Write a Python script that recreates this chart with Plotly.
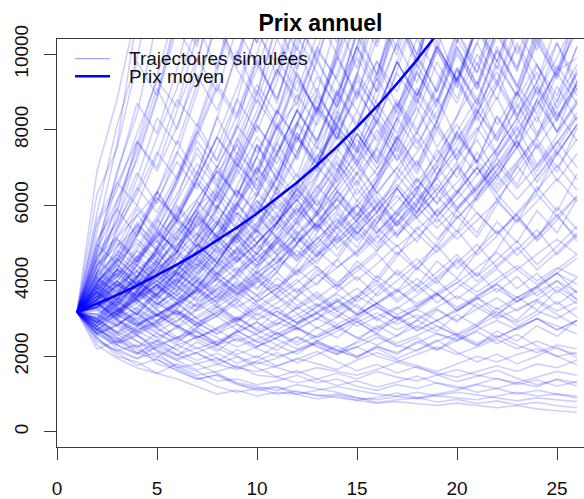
import plotly.graph_objects as go

years = list(range(1, 27))

# Prix moyen (mean price)
prix_moyen = [3170, 3390, 3620, 3870, 4140, 4430, 4730, 5060, 5410, 5780, 6180, 6600, 7060,
              7550, 8070, 8620, 9220, 9850, 10530, 11260, 12030, 12870, 13750, 14700, 15720, 16800]

# Simulated trajectories (estimated by eye, a representative subset of the cloud)
traj_bas_1 = [3170, 2450, 2150, 2300, 1800, 1650, 1400, 1500, 1250, 1150, 1200, 1050, 980, 900, 820, 760, 800, 740, 700, 760, 690, 640, 700, 610, 560, 520]
traj_bas_2 = [3170, 2700, 2200, 1950, 2100, 1700, 1450, 1200, 1050, 1150, 1000, 1080, 950, 1000, 900, 850, 940, 880, 960, 1050, 980, 900, 820, 900, 850, 800]
traj_bas_3 = [3170, 2300, 1950, 1700, 1550, 1800, 1600, 1350, 1400, 1250, 1350, 1500, 1300, 1400, 1200, 1100, 1250, 1150, 1300, 1200, 1050, 1150, 1000, 1100, 1000, 950]
traj_bas_4 = [3170, 2900, 2500, 2100, 1900, 1700, 1800, 1550, 1300, 1200, 1100, 1250, 1150, 1050, 900, 780, 850, 900, 1000, 1100, 1250, 1150, 1300, 1200, 1400, 1300]
traj_bas_5 = [3170, 2600, 2800, 2400, 2000, 1750, 1500, 1600, 1750, 1500, 1450, 1300, 1400, 1550, 1400, 1600, 1450, 1350, 1500, 1650, 1500, 1400, 1300, 1450, 1600, 1500]
traj_bas_6 = [3170, 2500, 2000, 1850, 1550, 1400, 1200, 1000, 1100, 950, 1050, 1000, 1100, 1200, 1100, 1000, 950, 1050, 950, 900, 850, 950, 1050, 950, 1000, 900]
traj_bas_7 = [3170, 2800, 2350, 2550, 2200, 1950, 2100, 1800, 1650, 1850, 1700, 1550, 1700, 1600, 1500, 1650, 1850, 1700, 1550, 1450, 1600, 1750, 1600, 1800, 1700, 1900]
traj_bas_8 = [3170, 3000, 2600, 2250, 2400, 2050, 1800, 1950, 1700, 1600, 1750, 1950, 1800, 1650, 1900, 2100, 1900, 1750, 1600, 1800, 2000, 1850, 2050, 2200, 2000, 2100]

traj_mid_1 = [3170, 3400, 3000, 2700, 2900, 2500, 2650, 2300, 2450, 2200, 2000, 2150, 2350, 2100, 2250, 2500, 2300, 2150, 2400, 2600, 2350, 2550, 2300, 2100, 2300, 2200]
traj_mid_2 = [3170, 2900, 3200, 3500, 3100, 2800, 2500, 2700, 2400, 2600, 2900, 2700, 3000, 2750, 2500, 2300, 2550, 2800, 2600, 2400, 2700, 2950, 2700, 3000, 2800, 2600]
traj_mid_3 = [3170, 3700, 3300, 2900, 2600, 2300, 2500, 2750, 3000, 2700, 2450, 2200, 2400, 2150, 2000, 2250, 2100, 2350, 2600, 2450, 2800, 3100, 2900, 3200, 3000, 3300]
traj_mid_4 = [3170, 2700, 2450, 2700, 2950, 3200, 2900, 3150, 2850, 2600, 2850, 3100, 3400, 3100, 2800, 3050, 3300, 3000, 3300, 3600, 3300, 3000, 3250, 3500, 3200, 3450]
traj_mid_5 = [3170, 3500, 3900, 3500, 3100, 3400, 3000, 2700, 2950, 3300, 3050, 2750, 3000, 3300, 3600, 3300, 3000, 3250, 2950, 3200, 3500, 3800, 3450, 3700, 4000, 3700]
traj_mid_6 = [3170, 2600, 2300, 2050, 2250, 2500, 2200, 2400, 2650, 2900, 2600, 2850, 3150, 2850, 3100, 3400, 3100, 3350, 3650, 3300, 3600, 3900, 3550, 3850, 4200, 3900]
traj_mid_7 = [3170, 3600, 3250, 3600, 4000, 3600, 3300, 3600, 3250, 2950, 3200, 2900, 3150, 3450, 3100, 3400, 3750, 3400, 3700, 4050, 3700, 4050, 4400, 4000, 4350, 4100]
traj_mid_8 = [3170, 2950, 2650, 2400, 2150, 1900, 2100, 2300, 2050, 2250, 2500, 2750, 2500, 2750, 3000, 2700, 2950, 3250, 3600, 3950, 3600, 3950, 4300, 3900, 4300, 4700]
traj_mid_9 = [3170, 3500, 3200, 2850, 3100, 3400, 3750, 4100, 3700, 3350, 3050, 2750, 2500, 2750, 3000, 3300, 3000, 2700, 2950, 3250, 3550, 3250, 3550, 3850, 4200, 4600]
traj_mid_10 = [3170, 3800, 4200, 3800, 3400, 3700, 4100, 3700, 3300, 3600, 3900, 3500, 3150, 3450, 3800, 3400, 3700, 4050, 3650, 3950, 4350, 4750, 4300, 4700, 5100, 4700]
traj_mid_11 = [3170, 2800, 3100, 2800, 2500, 2750, 2450, 2200, 2000, 1800, 1950, 2150, 2350, 2150, 2350, 2600, 2350, 2550, 2800, 2550, 2300, 2500, 2750, 3000, 2700, 2950]
traj_mid_12 = [3170, 3300, 3650, 4000, 3600, 3200, 2900, 2600, 2850, 2550, 2300, 2500, 2250, 2050, 2250, 2000, 1850, 2050, 2250, 2050, 2250, 2450, 2200, 2400, 2200, 2050]
traj_mid_13 = [3170, 2600, 2850, 2550, 2300, 2500, 2750, 2500, 2250, 2450, 2700, 3000, 3300, 3650, 3300, 3000, 2700, 2950, 3250, 2950, 3250, 3550, 3200, 3500, 3850, 3500]
traj_mid_14 = [3170, 3450, 3100, 3400, 3050, 3350, 3700, 4050, 3650, 4000, 3600, 3250, 3550, 3200, 2900, 3150, 2850, 3100, 2800, 2550, 2800, 2500, 2750, 3000, 2700, 2950]

traj_haut_1 = [3170, 3600, 4000, 3600, 4000, 4400, 4000, 4400, 4850, 4400, 4800, 5300, 4800, 4350, 4750, 5200, 4700, 5150, 5650, 5100, 5600, 6100, 5550, 6100, 6700, 6100]
traj_haut_2 = [3170, 3900, 3500, 3850, 4250, 3850, 3450, 3800, 4200, 4600, 5050, 4550, 5000, 5500, 6000, 5400, 4900, 5350, 5850, 6400, 5800, 5250, 5750, 6300, 5700, 6250]
traj_haut_3 = [3170, 2900, 3200, 3550, 3900, 3500, 3850, 4250, 4650, 4200, 4600, 4150, 4550, 5000, 5500, 6000, 5450, 6000, 6550, 5950, 6500, 7100, 6450, 7050, 7700, 7000]
traj_haut_4 = [3170, 3400, 3100, 2800, 3100, 3400, 3750, 3400, 3750, 4100, 4500, 5000, 5500, 5000, 5450, 6000, 6550, 5950, 5400, 5900, 6450, 7050, 7700, 7000, 7650, 8350]
traj_haut_5 = [3170, 3700, 4300, 3900, 4300, 4750, 5250, 4750, 5200, 5700, 5150, 4650, 5100, 5600, 5050, 5550, 6100, 6700, 6050, 6600, 7200, 6550, 7150, 7800, 8500, 7700]
traj_haut_6 = [3170, 2800, 2550, 2800, 3100, 3450, 3800, 4200, 3800, 4200, 4650, 5150, 4650, 5100, 5600, 6150, 5550, 6100, 6700, 7350, 8050, 7300, 8000, 8750, 7950, 8700]
traj_haut_7 = [3170, 4000, 4500, 5000, 4500, 4950, 5450, 6000, 5400, 4850, 5350, 5900, 5300, 5850, 5250, 5800, 5200, 5700, 6250, 5650, 6200, 6800, 6150, 6750, 7400, 8100]
traj_haut_8 = [3170, 3500, 3850, 4250, 3850, 3500, 3200, 3500, 3850, 4250, 3850, 4250, 4700, 5200, 5750, 6350, 7000, 6350, 7000, 7700, 8450, 9300, 8400, 9250, 8350, 9200]
traj_haut_9 = [3170, 3300, 3650, 4050, 4500, 4050, 3650, 4050, 4500, 5000, 5550, 5000, 5550, 6150, 5550, 5000, 5550, 6150, 6800, 7500, 6800, 7500, 8300, 9150, 8250, 9100]
traj_haut_10 = [3170, 3750, 3400, 3750, 3400, 3100, 3400, 3750, 4150, 4600, 5100, 4600, 5100, 5650, 5100, 5650, 6250, 5650, 5100, 5650, 6250, 6900, 7650, 6900, 7650, 8450]
traj_haut_11 = [3170, 4200, 4700, 4250, 4700, 5200, 5750, 6350, 5750, 6350, 5750, 5200, 5750, 6350, 7050, 6350, 5750, 6350, 5750, 6350, 7000, 6350, 7000, 7750, 7000, 7750]
traj_haut_12 = [3170, 2700, 3000, 3300, 3650, 4050, 4450, 4000, 3600, 3950, 4350, 4800, 4350, 3950, 4350, 4800, 5300, 5850, 6450, 5850, 6450, 7100, 7850, 8650, 9550, 9900]
traj_haut_13 = [3170, 3500, 3200, 3550, 3900, 4300, 4750, 5250, 5800, 5250, 5800, 6400, 7050, 6400, 5800, 5250, 5800, 5250, 4750, 5250, 5800, 5250, 5800, 6400, 7050, 6400]
traj_haut_14 = [3170, 3600, 3250, 2950, 2650, 2950, 3250, 3600, 3950, 3600, 3250, 3600, 3950, 4350, 4800, 5300, 5850, 6450, 7100, 7850, 7100, 6450, 7100, 7850, 8650, 9500]
traj_haut_15 = [3170, 3450, 3800, 3450, 3800, 4200, 3800, 3450, 3800, 3450, 3800, 4200, 4650, 5150, 4650, 5150, 5700, 6300, 5700, 6300, 7000, 6300, 5700, 5150, 5700, 5150]
traj_haut_16 = [3170, 4100, 3700, 4100, 4550, 5000, 4550, 4100, 4550, 5000, 5550, 6150, 6800, 7500, 6800, 7500, 6800, 6150, 5550, 6150, 6800, 7500, 8300, 7500, 8300, 9200]

traj_sup_1 = [3170, 5300, 7600, 11000, 13500, 16000, 15000, 18000, 21000, 19000, 23000, 26000, 24000, 28000, 31000, 29000, 33000, 37000, 35000, 40000, 44000, 41000, 46000, 50000, 47000, 52000]
traj_sup_2 = [3170, 4800, 6900, 8400, 10900, 12800, 11500, 13900, 16300, 15000, 17800, 20500, 19000, 22500, 26000, 24000, 28000, 32000, 30000, 34000, 39000, 36000, 41000, 46000, 43000, 48000]
traj_sup_3 = [3170, 4500, 5600, 7300, 8900, 11100, 10200, 12400, 14500, 13300, 15800, 18300, 16800, 19500, 22500, 20500, 23500, 27000, 25000, 28500, 32500, 30000, 34000, 38500, 35500, 40000]
traj_sup_4 = [3170, 4200, 5300, 6400, 7800, 9100, 10800, 9600, 11700, 13600, 12400, 14600, 17000, 15500, 18000, 21000, 19200, 22200, 25500, 23500, 27000, 31000, 28500, 32500, 37000, 34000]
traj_sup_5 = [3170, 3900, 4900, 5900, 5300, 6600, 8000, 9500, 11300, 10300, 12200, 14300, 13000, 15200, 17800, 16300, 19000, 22000, 20000, 23200, 26800, 24500, 28200, 32400, 29700, 34000]
traj_sup_6 = [3170, 4400, 5100, 4600, 5600, 6700, 7900, 9200, 8400, 10000, 11800, 10800, 12700, 14900, 13600, 15900, 18500, 17000, 19800, 23000, 21000, 24300, 28000, 25700, 29500, 34000]
traj_sup_7 = [3170, 3600, 4300, 5200, 6200, 5600, 6700, 7800, 9100, 10600, 9700, 11400, 13300, 12200, 14300, 16700, 15300, 17800, 20700, 19000, 22000, 25500, 23400, 27000, 31000, 28500]
traj_sup_8 = [3170, 3800, 4600, 4100, 4900, 5800, 6900, 6200, 7300, 8500, 9900, 9000, 10500, 12200, 11200, 13000, 15100, 13900, 16100, 18600, 17100, 19800, 22800, 21000, 24200, 27800]
traj_sup_9 = [3170, 3400, 3100, 3700, 4400, 5200, 6100, 5500, 6500, 7600, 6900, 8100, 9400, 8600, 10000, 11700, 10700, 12400, 14400, 13200, 15300, 17700, 16200, 18800, 21700, 19900]
traj_sup_10 = [3170, 4100, 4700, 5500, 5000, 5800, 6700, 6100, 7000, 8100, 7400, 8500, 9800, 8900, 10200, 11700, 10700, 12300, 14100, 12900, 14800, 17000, 15600, 17900, 20500, 18800]
traj_sup_11 = [3170, 3000, 3500, 4100, 4800, 5600, 5100, 5900, 6800, 7800, 7100, 8200, 7500, 8600, 9900, 9000, 10300, 11800, 10800, 12400, 14200, 13000, 14900, 17100, 15700, 18000]
traj_sup_12 = [3170, 3700, 3300, 3900, 4500, 4100, 4800, 5500, 6400, 5800, 6700, 7700, 8900, 8100, 9300, 8500, 9800, 11200, 10300, 11800, 13500, 12400, 14200, 16300, 14900, 17100]
traj_sup_13 = [3170, 2900, 3400, 3900, 3500, 4100, 4700, 5500, 5000, 5800, 6700, 6100, 7000, 8100, 7400, 8500, 9800, 8900, 10200, 9300, 10700, 12300, 11200, 12900, 14800, 13600]
traj_sup_14 = [3170, 3500, 4000, 3600, 4200, 4800, 4400, 5000, 5800, 5300, 6100, 5500, 6300, 7300, 6600, 7600, 8700, 7900, 9100, 10400, 9500, 10900, 12500, 11400, 13100, 15000]
traj_sup_15 = [3170, 3300, 3800, 4400, 4000, 3600, 4200, 4800, 5500, 5000, 5700, 6600, 6000, 6900, 7900, 7200, 8300, 9500, 8700, 10000, 9100, 10500, 9600, 11000, 12600, 11500]
traj_sup_16 = [3170, 2800, 3200, 3700, 4300, 3900, 4500, 5200, 4700, 5400, 6200, 5600, 6400, 7400, 8500, 7700, 8800, 8000, 9200, 10600, 9700, 11100, 12800, 11700, 13400, 15400]
traj_sup_17 = [3170, 3900, 3500, 4100, 4700, 5400, 4900, 5600, 5100, 5900, 6800, 7800, 7100, 8100, 7400, 8500, 7700, 8900, 10200, 9300, 10700, 9800, 11200, 12900, 11800, 13500]
traj_sup_18 = [3170, 3600, 4200, 4900, 5700, 6600, 7700, 7000, 8000, 9200, 8400, 9600, 11000, 10000, 11500, 13200, 12100, 13900, 12700, 14600, 16800, 15400, 17700, 20300, 18600, 21400]
traj_sup_19 = [3170, 4600, 5400, 6300, 7400, 6700, 7800, 9100, 8300, 9600, 11100, 10100, 11700, 13500, 12300, 14200, 16400, 15000, 17300, 20000, 18300, 21100, 24300, 22200, 25600, 29500]
traj_sup_20 = [3170, 3200, 3700, 3400, 3900, 3500, 4000, 4600, 4200, 4800, 5500, 6300, 5700, 6500, 7500, 6800, 7800, 9000, 8200, 9400, 10800, 9800, 11300, 10300, 11800, 13600]
traj_sup_21 = [3170, 3700, 4300, 3900, 3500, 4000, 4600, 5300, 6100, 7000, 8100, 7400, 8500, 9800, 11300, 10300, 11800, 13600, 12400, 14300, 16400, 15000, 17300, 19900, 18200, 20900]
traj_sup_22 = [3170, 4300, 5000, 4500, 5200, 6000, 5400, 6200, 7100, 6400, 7400, 8500, 7700, 8900, 10200, 9300, 10700, 12300, 11200, 12900, 14800, 13500, 15500, 17800, 16300, 18700]
traj_sup_23 = [3170, 3100, 2800, 3200, 3700, 4300, 5000, 4500, 5200, 6000, 6900, 6200, 7100, 8200, 9400, 8500, 9800, 8900, 10200, 9300, 10700, 12300, 14100, 12900, 14800, 17000]
traj_sup_24 = [3170, 3500, 4000, 4600, 5300, 4800, 5500, 6300, 7200, 8300, 9500, 10900, 9900, 11400, 10400, 12000, 13800, 12600, 14500, 16700, 15200, 17500, 20100, 18400, 21200, 24400]
traj_sup_25 = [3170, 2700, 3100, 3600, 4100, 4700, 4300, 4900, 4500, 5200, 4700, 5400, 6200, 7100, 6500, 7500, 8600, 9900, 9000, 10300, 11800, 10800, 12400, 14300, 13100, 15100]
traj_sup_26 = [3170, 3800, 4400, 5100, 4600, 5300, 6100, 7000, 8100, 7400, 8500, 9800, 11300, 10300, 11800, 13600, 12400, 14300, 16400, 15000, 17300, 19900, 18200, 20900, 24000, 22000]

traj_c01 = [3170, 2480, 2090, 1760, 1930, 1610, 1390, 1520, 1280, 1090, 1180, 990, 870, 960, 840, 910, 1030, 900, 790, 860, 750, 820, 720, 780, 690, 640]
traj_c02 = [3170, 2760, 2310, 2580, 2140, 1880, 1640, 1790, 1990, 1700, 1460, 1620, 1400, 1230, 1350, 1190, 1320, 1480, 1290, 1150, 1270, 1420, 1250, 1380, 1210, 1330]
traj_c03 = [3170, 2190, 2420, 2090, 2330, 2020, 2240, 1950, 1700, 1880, 2100, 1830, 2040, 2280, 1990, 2220, 1940, 2170, 2430, 2110, 1850, 2060, 1800, 2010, 2250, 1960]
traj_c04 = [3170, 3010, 2620, 2890, 2480, 2150, 1890, 2080, 1820, 2010, 1740, 1920, 2130, 1860, 1620, 1790, 1560, 1730, 1510, 1330, 1470, 1630, 1420, 1250, 1380, 1210]
traj_c05 = [3170, 2580, 2840, 3170, 2760, 3050, 2650, 2330, 2570, 2260, 2490, 2750, 2410, 2660, 2940, 2570, 2250, 2490, 2180, 2410, 2660, 2340, 2580, 2270, 2000, 1780]
traj_c06 = [3170, 3430, 2980, 2610, 2880, 3190, 2790, 3080, 3410, 2980, 3300, 2880, 3190, 3530, 3090, 3420, 3790, 3310, 3660, 3200, 3540, 3920, 3430, 3800, 4210, 3680]
traj_c07 = [3170, 2870, 3180, 3520, 3900, 3420, 3000, 3320, 2910, 3220, 3570, 3130, 2740, 3040, 3370, 2950, 3270, 3620, 4010, 3520, 3900, 4320, 3790, 4200, 3680, 4080]
traj_c08 = [3170, 3690, 3240, 2840, 3140, 2760, 3060, 3390, 2970, 3290, 3650, 4040, 3540, 3920, 3440, 3810, 4220, 3700, 4100, 4540, 3980, 4410, 4890, 4290, 4750, 5260]
traj_c09 = [3170, 2990, 3320, 3680, 3230, 2830, 2480, 2750, 3050, 2670, 2960, 3280, 3640, 3190, 3540, 3920, 3440, 3810, 4230, 4690, 4110, 4560, 5050, 4430, 4910, 5440]
traj_c10 = [3170, 3550, 3980, 3490, 3060, 3390, 3760, 3300, 3660, 4060, 3560, 3950, 4380, 3840, 4260, 4720, 4140, 4590, 4030, 4470, 4960, 4350, 4820, 5350, 4690, 5200]
traj_c11 = [3170, 2710, 2380, 2640, 2930, 3250, 2850, 3160, 3510, 3080, 3420, 3800, 3330, 3700, 4110, 3600, 4000, 4440, 4930, 4320, 4800, 5330, 4670, 5190, 5760, 5050]
traj_c12 = [3170, 3820, 3350, 3720, 3260, 3620, 4020, 3520, 3910, 3430, 3810, 3340, 3710, 3250, 3610, 4010, 3510, 3900, 3420, 3800, 4220, 3700, 4110, 3600, 4000, 3500]
traj_c13 = [3170, 3240, 2840, 3150, 2760, 2420, 2690, 2360, 2620, 2910, 2550, 2830, 3140, 2750, 3050, 3390, 2970, 3300, 3660, 3210, 3560, 3120, 3460, 3840, 3370, 3740]
traj_c14 = [3170, 2640, 2930, 2570, 2850, 3160, 2770, 3070, 2690, 2360, 2620, 2300, 2550, 2830, 2480, 2750, 3050, 2670, 2960, 2590, 2870, 3190, 2800, 3110, 3450, 3030]
traj_c15 = [3170, 3360, 3730, 4140, 3630, 4030, 3530, 3920, 4350, 3810, 4230, 3710, 4120, 4570, 4010, 4450, 4940, 4330, 4810, 5340, 4680, 5190, 5760, 5050, 5610, 6230]
traj_c16 = [3170, 3980, 4420, 3880, 4310, 4780, 4190, 4650, 5160, 4520, 5020, 5570, 4880, 5420, 6010, 5270, 5850, 6490, 5690, 6320, 7010, 6150, 6830, 7580, 6640, 7370]
traj_c17 = [3170, 3480, 3860, 4280, 4750, 4160, 4620, 5130, 4500, 4990, 5540, 6150, 5390, 5980, 6640, 5820, 6460, 7170, 6280, 6970, 7740, 6780, 7530, 8360, 7330, 8140]
traj_c18 = [3170, 2930, 3250, 3610, 4010, 4450, 3900, 4330, 4810, 5340, 4680, 5190, 5760, 5050, 5610, 6230, 5460, 6060, 6730, 5900, 6550, 7270, 8070, 7070, 7850, 8710]
traj_c19 = [3170, 3770, 4180, 4640, 5150, 5720, 5010, 5560, 4870, 5410, 6000, 5260, 5840, 6480, 7190, 6300, 6990, 7760, 6800, 7550, 8380, 7340, 8150, 9050, 7930, 8800]
traj_c20 = [3170, 4420, 4900, 5440, 4770, 5290, 5870, 5140, 5710, 5000, 5550, 6160, 5400, 5990, 5250, 5830, 6470, 5670, 6290, 6980, 6120, 6790, 7540, 6610, 7340, 8150]
traj_c21 = [3170, 3120, 3460, 3840, 3370, 3740, 4150, 4610, 5120, 4490, 4980, 5530, 6140, 5380, 5970, 6630, 7360, 6450, 7160, 7950, 8820, 7730, 8580, 9520, 8340, 9260]
traj_c22 = [3170, 3590, 3150, 3500, 3880, 4310, 4780, 4190, 4650, 5160, 5730, 5020, 5570, 6180, 6860, 6010, 6670, 7400, 8210, 7190, 7980, 8860, 7760, 8610, 9560, 10600]
traj_c23 = [3170, 4050, 3550, 3940, 4370, 3830, 4250, 4720, 5240, 5820, 5100, 5660, 6280, 6970, 6110, 6780, 7530, 6600, 7330, 8140, 7130, 7910, 8780, 9750, 8540, 9480]
traj_c24 = [3170, 2820, 3130, 3470, 3850, 3370, 3740, 4150, 4610, 4040, 4480, 4970, 5520, 4840, 5370, 5960, 5220, 5790, 6430, 7140, 6260, 6950, 7710, 6760, 7500, 8330]
traj_c25 = [3170, 3700, 4110, 4560, 5060, 4430, 4920, 5460, 6060, 6730, 5900, 6550, 7270, 8070, 7070, 7850, 8710, 7630, 8470, 9400, 8240, 9150, 10200, 8930, 9910, 11000]
traj_c26 = [3170, 4640, 5150, 5720, 6350, 5560, 6170, 6850, 7600, 6660, 7390, 8200, 9100, 7970, 8850, 9820, 8610, 9560, 10600, 9290, 10300, 11400, 10000, 11100, 12300, 10800]
traj_c27 = [3170, 3290, 3650, 4050, 3550, 3940, 4370, 4850, 4250, 4720, 5240, 5820, 6460, 7170, 6280, 6970, 7740, 8590, 7530, 8360, 9280, 8130, 9020, 7900, 8770, 9730]
traj_c28 = [3170, 3860, 4280, 3750, 4160, 4620, 5130, 5690, 4990, 5540, 6150, 6830, 5980, 6640, 7370, 8180, 7170, 7960, 8840, 7740, 8590, 9530, 8350, 9270, 10300, 9020]
traj_c29 = [3170, 5020, 6120, 7460, 9100, 8000, 9760, 11900, 10500, 12800, 15600, 13700, 16700, 20400, 17900, 21800, 26600, 23400, 28500, 34800, 30600, 37300, 45500, 40000, 48800, 59500]
traj_c30 = [3170, 4610, 5620, 6860, 6040, 7370, 8990, 11000, 9650, 11800, 14400, 12600, 15400, 18800, 16500, 20100, 24600, 21600, 26400, 32200, 28300, 34500, 42100, 37000, 45200, 55100]
traj_c31 = [3170, 4190, 5110, 4500, 5490, 6700, 8170, 7190, 8770, 10700, 9420, 11500, 14000, 12300, 15000, 18300, 16100, 19700, 24000, 21100, 25800, 31400, 27700, 33700, 41200, 36200]
traj_c32 = [3170, 3870, 4720, 5760, 5070, 6180, 7540, 6640, 8100, 9880, 8690, 10600, 12900, 11400, 13900, 17000, 14900, 18200, 22200, 19500, 23800, 29100, 25600, 31200, 38100, 33500]
traj_c33 = [3170, 3510, 4280, 5220, 6370, 5610, 6840, 8340, 7340, 8960, 10900, 9610, 11700, 14300, 12600, 15400, 18700, 16500, 20100, 24500, 21600, 26300, 32100, 28300, 34500, 42000]
traj_c34 = [3170, 3330, 3060, 3730, 4550, 5550, 4880, 5960, 7270, 6400, 7800, 9520, 8380, 10200, 12500, 11000, 13400, 16300, 14400, 17500, 21400, 18800, 23000, 28000, 24700, 30100]
traj_c35 = [3170, 4110, 3620, 4410, 5380, 4740, 5780, 7050, 6200, 7570, 6660, 8120, 9910, 8720, 10600, 12900, 11400, 13900, 17000, 14900, 18200, 22200, 19600, 23900, 29100, 25600]
traj_c36 = [3170, 2980, 3640, 4440, 3900, 4760, 5810, 5110, 6240, 7610, 6700, 8170, 7190, 8770, 10700, 9420, 11500, 14000, 12300, 15000, 18300, 16100, 19700, 24000, 21100, 25800]
traj_c37 = [3170, 3640, 4440, 3910, 4770, 4200, 5120, 6250, 5500, 6710, 8180, 7200, 8790, 7730, 9430, 11500, 10100, 12300, 15000, 13200, 16100, 19700, 17300, 21100, 25800, 22700]
traj_c38 = [3170, 4830, 5890, 5180, 6320, 7710, 6790, 8280, 10100, 8890, 10800, 13200, 11600, 14200, 17300, 15200, 18600, 22700, 20000, 24400, 29700, 26100, 31900, 38900, 34200, 41700]
traj_c39 = [3170, 3410, 3000, 3660, 4470, 3930, 4800, 5850, 5150, 6280, 7660, 6740, 8230, 10000, 8820, 10800, 13200, 11600, 14100, 17200, 15100, 18500, 22500, 19800, 24200, 29500]
traj_c40 = [3170, 2890, 3530, 3100, 3790, 4620, 4060, 4960, 6050, 5320, 6490, 7920, 6970, 8500, 7480, 9130, 11100, 9780, 11900, 14600, 12800, 15600, 19100, 16800, 20500, 25000]
traj_c41 = [3170, 3960, 3480, 4250, 3740, 4560, 5560, 4890, 5970, 7280, 6410, 7820, 6880, 8390, 10200, 9000, 11000, 9670, 11800, 14400, 12700, 15500, 18900, 16600, 20300, 24700]
traj_c42 = [3170, 3720, 4540, 5540, 4870, 5940, 5230, 6380, 7780, 6850, 8360, 10200, 8970, 10900, 9620, 11700, 14300, 12600, 15400, 18800, 16500, 20100, 24600, 21600, 26400, 32200]

traj_d01 = [3170, 4020, 3710, 4490, 5230, 4870, 5960, 6420, 7380, 6810, 8050, 8720, 10100, 9340, 10900, 12700, 11500, 13100, 14900, 13600, 15800, 18100, 16400, 19200, 21900, 20300]
traj_d02 = [3170, 3560, 4310, 4060, 4830, 5620, 5180, 6270, 7090, 6520, 7640, 8930, 8110, 9480, 11000, 10200, 11900, 13400, 12300, 14500, 16900, 15300, 17800, 20400, 18700, 21600]
traj_d03 = [3170, 2850, 3390, 3980, 3620, 4250, 4960, 4470, 5340, 6120, 5580, 6490, 7560, 6920, 8100, 9350, 8440, 9820, 11400, 10300, 12000, 13900, 12500, 14600, 16900, 15200]
traj_d04 = [3170, 3940, 4580, 4100, 4870, 5690, 6610, 5880, 6930, 6240, 7290, 8520, 7610, 8970, 8050, 9390, 11000, 9830, 11500, 13300, 11900, 13900, 16100, 14400, 16800, 19500]
traj_d05 = [3170, 4390, 5170, 5990, 5370, 6300, 7380, 6560, 7720, 9050, 8070, 9470, 8450, 9930, 11600, 10400, 12100, 14200, 12700, 14800, 17300, 15500, 18100, 21100, 18900, 22100]
traj_d06 = [3170, 3470, 3150, 3790, 4380, 5160, 4640, 5500, 6390, 5740, 6760, 7920, 7100, 8360, 7500, 8830, 10300, 9240, 10800, 12600, 11300, 13200, 15400, 13800, 16100, 18800]
traj_d07 = [3170, 3290, 3950, 3560, 4180, 3760, 4420, 5190, 4680, 5500, 6440, 5780, 6790, 7950, 7140, 8380, 9800, 8790, 10300, 9230, 10800, 12600, 11300, 13200, 15400, 13800]
traj_d08 = [3170, 4210, 3830, 4560, 4080, 4790, 5640, 5060, 5940, 6980, 6260, 7350, 8620, 7740, 9090, 8160, 9570, 11200, 10100, 11800, 10600, 12400, 14500, 13000, 15200, 17800]
traj_d09 = [3170, 3650, 3340, 3960, 3560, 4210, 3780, 4450, 5240, 4700, 5530, 6500, 5840, 6860, 8070, 7250, 8520, 10000, 8990, 10600, 9510, 11200, 13100, 11800, 13800, 16200]
traj_d10 = [3170, 2960, 3440, 3110, 3640, 4250, 3820, 4470, 5220, 4700, 5500, 6420, 5780, 6760, 7900, 7110, 8310, 9720, 8740, 10200, 9190, 10700, 12500, 11300, 13200, 15400]
traj_d11 = [3170, 3380, 3020, 3560, 4150, 3740, 4360, 5080, 4580, 5340, 4800, 5600, 6530, 5880, 6860, 8000, 7200, 8400, 9800, 8820, 10300, 9260, 10800, 12600, 11300, 13200]
traj_d12 = [3170, 3820, 3420, 4030, 3620, 4250, 4970, 4470, 5230, 6110, 5500, 6430, 5780, 6760, 7900, 7110, 8310, 7480, 8750, 10200, 9180, 10700, 9650, 11300, 13200, 11900]
traj_d13 = [3170, 2780, 3250, 2920, 3420, 3080, 3600, 4210, 3790, 4430, 5180, 4660, 5450, 6370, 5730, 6700, 7840, 7060, 8260, 9660, 8690, 10200, 9150, 10700, 12500, 11300]
traj_d14 = [3170, 3120, 2800, 3280, 2950, 3450, 4030, 3630, 4250, 4970, 4470, 5230, 4710, 5510, 6440, 5800, 6780, 7930, 7140, 8350, 9770, 8790, 10300, 9260, 10800, 12600]
traj_d15 = [3170, 3590, 4190, 3770, 4410, 3970, 4640, 4180, 4890, 4400, 5150, 6020, 5420, 6340, 5700, 6670, 7800, 7020, 8210, 9600, 8640, 10100, 9090, 10600, 9560, 11200]
traj_d16 = [3170, 2690, 3140, 2830, 3310, 3870, 3480, 4070, 3660, 4280, 5010, 4510, 5270, 6170, 5550, 6490, 7590, 6830, 7990, 7190, 8410, 9840, 8860, 10400, 9330, 10900]
traj_d17 = [3170, 3410, 3980, 4650, 4190, 4900, 5730, 5160, 6040, 5430, 6350, 5720, 6690, 7830, 7040, 8240, 7410, 8670, 10100, 9110, 10700, 9600, 11200, 10100, 11800, 13800]
traj_d18 = [3170, 4560, 4100, 4800, 5620, 5060, 5920, 6920, 6230, 7290, 8530, 7680, 8980, 8080, 9460, 11100, 9970, 11700, 10500, 12300, 14400, 13000, 15200, 13700, 16000, 18700]
traj_d19 = [3170, 3260, 2940, 2640, 3090, 2780, 3250, 3800, 3420, 4000, 4680, 4210, 4930, 5770, 5190, 6070, 5470, 6390, 7480, 6730, 7880, 9220, 8290, 9700, 8730, 10200]
traj_d20 = [3170, 3730, 3360, 3930, 4600, 4140, 4840, 4360, 5100, 5970, 5370, 6280, 7350, 6620, 7740, 6970, 8150, 9540, 8590, 10100, 9050, 10600, 9540, 11200, 13100, 11800]
traj_d21 = [3170, 2940, 2650, 3100, 2790, 3260, 3820, 3440, 4020, 3620, 4240, 4960, 4460, 5220, 4700, 5500, 6430, 5790, 6770, 7920, 7130, 8340, 7510, 8790, 10300, 9260]
traj_d22 = [3170, 3520, 4120, 3710, 3340, 3910, 4570, 4110, 4810, 4330, 5070, 5930, 5340, 6240, 5620, 6580, 7690, 6920, 8100, 7290, 8530, 7680, 8980, 10500, 9450, 11100]
traj_d23 = [3170, 2620, 2360, 2760, 3230, 2910, 3400, 3060, 3580, 4190, 3770, 4410, 5160, 4650, 5440, 4890, 5730, 6700, 6030, 7050, 6350, 7430, 8690, 7820, 9150, 8240]
traj_d24 = [3170, 3060, 3580, 3220, 2900, 3390, 3970, 3570, 4180, 3760, 4400, 5150, 4630, 5420, 4880, 5710, 5140, 6010, 7030, 6330, 7400, 6660, 7800, 9120, 8210, 9600]
traj_d25 = [3170, 3840, 3460, 3110, 3640, 3280, 3830, 4490, 4040, 4730, 4250, 4980, 5820, 5240, 6130, 5520, 6460, 5810, 6800, 7950, 7160, 8370, 7540, 8820, 7940, 9290]
traj_d26 = [3170, 2770, 2490, 2240, 2620, 2360, 2760, 3230, 2910, 3400, 3060, 3580, 4190, 3770, 4410, 3970, 4640, 5430, 4890, 5720, 5150, 6020, 7050, 6340, 7420, 6680]
traj_d27 = [3170, 3330, 3900, 3510, 4100, 3690, 3320, 3890, 3500, 4090, 3680, 4310, 3880, 4540, 5310, 4780, 5590, 5030, 5890, 5300, 6200, 7250, 6530, 7640, 6870, 8040]
traj_d28 = [3170, 2560, 2300, 2070, 2420, 2180, 2550, 2300, 2690, 3150, 2830, 3310, 2980, 3490, 3140, 3670, 4290, 3860, 4520, 4070, 4760, 5570, 5010, 5860, 5270, 6170]
traj_d29 = [3170, 3680, 3310, 2980, 3490, 3140, 2830, 3310, 2980, 3490, 4080, 3670, 4290, 3860, 4520, 4070, 4760, 4280, 5010, 5860, 5270, 6170, 5550, 6490, 5840, 6830]
traj_d30 = [3170, 2880, 2590, 3030, 2730, 2460, 2880, 2590, 3030, 2730, 3190, 2870, 3360, 3020, 3530, 4130, 3720, 4350, 3920, 4590, 4130, 4830, 5650, 5090, 5950, 5360]
traj_d31 = [3170, 2380, 2140, 1930, 2260, 2030, 2380, 2140, 2500, 2250, 2630, 2370, 2770, 2490, 2910, 2620, 3070, 2760, 3230, 2910, 3400, 3060, 3580, 3220, 3770, 3390]
traj_d32 = [3170, 2710, 2440, 2190, 1970, 2300, 2070, 1860, 2180, 1960, 2290, 2060, 2410, 2170, 1950, 2280, 2050, 2400, 2160, 2530, 2280, 2670, 2400, 2810, 2530, 2960]
traj_d33 = [3170, 3300, 2970, 2670, 2400, 2810, 2530, 2280, 2670, 2400, 2160, 2530, 2280, 2050, 2400, 2810, 2530, 2960, 2660, 3110, 2800, 3280, 2950, 3450, 3110, 2800]
traj_d34 = [3170, 3900, 4560, 5340, 4810, 5630, 6590, 5930, 6940, 8120, 7310, 8550, 7700, 9010, 10500, 9460, 11100, 9980, 11700, 13700, 12300, 14400, 13000, 15200, 17800, 16000]
traj_d35 = [3170, 4720, 5520, 6460, 5810, 6800, 7960, 7160, 8380, 9800, 8820, 10300, 12100, 10900, 12700, 14900, 13400, 15700, 18400, 16600, 19400, 22700, 20400, 23900, 28000, 25200]
traj_d36 = [3170, 5610, 6560, 7680, 6910, 8080, 9450, 8510, 9960, 11700, 10500, 12300, 14400, 13000, 15200, 17800, 16000, 18700, 21900, 19700, 23100, 27000, 24300, 28400, 33200, 29900]
traj_d37 = [3170, 4960, 4460, 5220, 6110, 7150, 6440, 7530, 8810, 7930, 9280, 10900, 9790, 11500, 13400, 12100, 14100, 16500, 14900, 17400, 20400, 18300, 21400, 25100, 22600, 26400]
traj_d38 = [3170, 3950, 4620, 5410, 6330, 7410, 6670, 7800, 7020, 8210, 9610, 8650, 10100, 11800, 10600, 12400, 14500, 13100, 15300, 17900, 16100, 18900, 22100, 19900, 23300, 27200]
traj_d39 = [3170, 3020, 3530, 4130, 4830, 4350, 5090, 5960, 5360, 6270, 7340, 6610, 7730, 9040, 8140, 9520, 11100, 10000, 11700, 13700, 12300, 14400, 16900, 15200, 17800, 20800]
traj_d40 = [3170, 4300, 3870, 4530, 5300, 4770, 5580, 6530, 5880, 6880, 8050, 7250, 8480, 9920, 8930, 10400, 12200, 11000, 12900, 15100, 13600, 15900, 18600, 16700, 19600, 22900]

traj_e01 = [3170, 5800, 8100, 9900, 12400, 11300, 13600, 15900, 14500, 17200, 20100, 18300, 21500, 25000, 22900, 26700, 31100, 28500, 33200, 38600, 35300, 41100, 47800, 43800, 51000, 59300]
traj_e02 = [3170, 6300, 7500, 9800, 8900, 10800, 12900, 11700, 14000, 16700, 15200, 18100, 21600, 19700, 23500, 28000, 25500, 30400, 36200, 33000, 39300, 46800, 42600, 50700, 60400, 55000]
traj_e03 = [3170, 4900, 6800, 8700, 7900, 9600, 11800, 10700, 9600, 8700, 10400, 9400, 8500, 10100, 12000, 10900, 13000, 15500, 14100, 16800, 20000, 18200, 21700, 25800, 23500, 28000]
traj_e04 = [3170, 5500, 6400, 7900, 9300, 8600, 10500, 12400, 11300, 13500, 16100, 14700, 17500, 20800, 18900, 22500, 26800, 24400, 29000, 34500, 31400, 37400, 44500, 40500, 48200, 57400]
traj_e05 = [3170, 4400, 6100, 7200, 8800, 10700, 9800, 11700, 13900, 12700, 15100, 18000, 16400, 19500, 23200, 21100, 25100, 29900, 27200, 32400, 38600, 35100, 41800, 49700, 45200, 53800]
traj_e06 = [3170, 5100, 5900, 7700, 7000, 8500, 9900, 9000, 10700, 9700, 8800, 10500, 9500, 8600, 10200, 12100, 11000, 13100, 15600, 14200, 16900, 20100, 18300, 21800, 25900, 23600]
traj_e07 = [3170, 3900, 5400, 6700, 8300, 7600, 9200, 10800, 9800, 11700, 13900, 12700, 15100, 18000, 16400, 19500, 23200, 21100, 25100, 29900, 27200, 32400, 38600, 35100, 41800, 49700]
traj_e08 = [3170, 4700, 6600, 6000, 7300, 8800, 8100, 9700, 11300, 10300, 12300, 14600, 13300, 15800, 18800, 17100, 20400, 24300, 22100, 26300, 31300, 28500, 33900, 40300, 36700, 43700]
traj_e09 = [3170, 6900, 8800, 11200, 13600, 12400, 14800, 17600, 16000, 19100, 22700, 20700, 24600, 29300, 26700, 31800, 37800, 34400, 40900, 48700, 44300, 52700, 62700, 57100, 67900, 80800]
traj_e10 = [3170, 4200, 5800, 7600, 9400, 11300, 10300, 12300, 14600, 13300, 15800, 18800, 17100, 20400, 24300, 22100, 26300, 31300, 28500, 33900, 40300, 36700, 43700, 52000, 47300, 56300]
traj_e11 = [3170, 3800, 4500, 5300, 6200, 5700, 6700, 7800, 7100, 8300, 9600, 8800, 10200, 9300, 8500, 9800, 9000, 10400, 9500, 8700, 10000, 9200, 10600, 9700, 8900, 10200]
traj_e12 = [3170, 4100, 4800, 4400, 5200, 6100, 7100, 6500, 7600, 8800, 8000, 9300, 8500, 7800, 9000, 8200, 9500, 8700, 10100, 9200, 8400, 9700, 8900, 10300, 9400, 10800]
traj_e13 = [3170, 3500, 4100, 4800, 4400, 5100, 5900, 6900, 6300, 7300, 8500, 7800, 7100, 8200, 9500, 8700, 7900, 9100, 8300, 9600, 8800, 10100, 9200, 8400, 9700, 8900]
traj_e14 = [3170, 3300, 3900, 3600, 4200, 4900, 5700, 5200, 6000, 7000, 6400, 7400, 8600, 7900, 7200, 8300, 7600, 8800, 8000, 9300, 8500, 7800, 9000, 8200, 9500, 8700]

trajectoires = [
    traj_bas_1, traj_bas_2, traj_bas_3, traj_bas_4, traj_bas_5, traj_bas_6, traj_bas_7, traj_bas_8,
    traj_mid_1, traj_mid_2, traj_mid_3, traj_mid_4, traj_mid_5, traj_mid_6, traj_mid_7,
    traj_mid_8, traj_mid_9, traj_mid_10, traj_mid_11, traj_mid_12, traj_mid_13, traj_mid_14,
    traj_haut_1, traj_haut_2, traj_haut_3, traj_haut_4, traj_haut_5, traj_haut_6, traj_haut_7, traj_haut_8,
    traj_haut_9, traj_haut_10, traj_haut_11, traj_haut_12, traj_haut_13, traj_haut_14, traj_haut_15, traj_haut_16,
    traj_sup_1, traj_sup_2, traj_sup_3, traj_sup_4, traj_sup_5, traj_sup_6, traj_sup_7, traj_sup_8, traj_sup_9,
    traj_sup_10, traj_sup_11, traj_sup_12, traj_sup_13, traj_sup_14, traj_sup_15, traj_sup_16, traj_sup_17,
    traj_sup_18, traj_sup_19, traj_sup_20, traj_sup_21, traj_sup_22, traj_sup_23, traj_sup_24, traj_sup_25, traj_sup_26,
    traj_c01, traj_c02, traj_c03, traj_c04, traj_c05, traj_c06, traj_c07, traj_c08, traj_c09, traj_c10,
    traj_c11, traj_c12, traj_c13, traj_c14, traj_c15, traj_c16, traj_c17, traj_c18, traj_c19, traj_c20,
    traj_c21, traj_c22, traj_c23, traj_c24, traj_c25, traj_c26, traj_c27, traj_c28, traj_c29, traj_c30,
    traj_c31, traj_c32, traj_c33, traj_c34, traj_c35, traj_c36, traj_c37, traj_c38, traj_c39, traj_c40,
    traj_c41, traj_c42,
    traj_d01, traj_d02, traj_d03, traj_d04, traj_d05, traj_d06, traj_d07, traj_d08, traj_d09, traj_d10,
    traj_d11, traj_d12, traj_d13, traj_d14, traj_d15, traj_d16, traj_d17, traj_d18, traj_d19, traj_d20,
    traj_d21, traj_d22, traj_d23, traj_d24, traj_d25, traj_d26, traj_d27, traj_d28, traj_d29, traj_d30,
    traj_d31, traj_d32, traj_d33, traj_d34, traj_d35, traj_d36, traj_d37, traj_d38, traj_d39, traj_d40,
    traj_e01, traj_e02, traj_e03, traj_e04, traj_e05, traj_e06, traj_e07, traj_e08, traj_e09, traj_e10,
    traj_e11, traj_e12, traj_e13, traj_e14,
]

x_ticks = [0, 5, 10, 15, 20, 25]
y_ticks = [0, 2000, 4000, 6000, 8000, 10000]
legend_labels = ["Trajectoires simulées", "Prix moyen"]
title_text = "Prix annuel"

FONT = "Liberation Sans, Arial, Helvetica, sans-serif"
TRAJ_COLOR = "rgba(0,0,255,0.19)"
MEAN_COLOR = "#0000ff"
AXIS_COLOR = "#3a3a3a"

fig = go.Figure()
for tr in trajectoires:
    fig.add_trace(go.Scatter(x=years, y=tr, mode="lines",
                             line=dict(color=TRAJ_COLOR, width=1.6),
                             hoverinfo="skip", showlegend=False))
fig.add_trace(go.Scatter(x=years, y=prix_moyen, mode="lines",
                         line=dict(color=MEAN_COLOR, width=2.6),
                         showlegend=False))

W, H = 584, 499
ml, mr, mt, mb = 57, 0, 39, 44
pw, ph = W - ml - mr, H - mt - mb

def px_x(p):
    return (p - ml) / pw

def px_y(p):
    return (H - mb - p) / ph

# hand-drawn legend (R style, no box)
fig.add_shape(type="line", xref="paper", yref="paper",
              x0=px_x(75), x1=px_x(110), y0=px_y(59), y1=px_y(59),
              line=dict(color="rgba(0,0,255,0.35)", width=1.4))
fig.add_shape(type="line", xref="paper", yref="paper",
              x0=px_x(75), x1=px_x(110), y0=px_y(77), y1=px_y(77),
              line=dict(color=MEAN_COLOR, width=2.6))
fig.add_annotation(text=legend_labels[0], xref="paper", yref="paper",
                   x=px_x(127), y=px_y(59), xanchor="left", yanchor="middle",
                   showarrow=False, font=dict(family=FONT, size=19, color="#111"))
fig.add_annotation(text=legend_labels[1], xref="paper", yref="paper",
                   x=px_x(127), y=px_y(77), xanchor="left", yanchor="middle",
                   showarrow=False, font=dict(family=FONT, size=19, color="#111"))

fig.update_layout(
    width=W, height=H,
    margin=dict(l=ml, r=mr, t=mt, b=mb, pad=0),
    paper_bgcolor="white", plot_bgcolor="white",
    font=dict(family=FONT, size=19, color="#111"),
    title=dict(text="<b>" + title_text + "</b>", x=0.5, xref="paper", xanchor="center",
               y=1 - 23 / H, yref="container", yanchor="middle",
               font=dict(family=FONT, size=23, color="#000")),
    showlegend=False,
)
fig.update_xaxes(range=[0, (W - ml) / 20.0], tickvals=x_ticks, ticktext=[str(v) for v in x_ticks],
                 showgrid=False, zeroline=False, showline=True, mirror=True,
                 linecolor=AXIS_COLOR, linewidth=1.2, ticks="outside", ticklen=12,
                 tickcolor=AXIS_COLOR, tickwidth=1.2, ticklabelstandoff=12,
                 tickfont=dict(family=FONT, size=19, color="#111"))
fig.update_yaxes(range=[-400, 10400], tickvals=y_ticks, ticktext=[str(v) for v in y_ticks],
                 showgrid=False, zeroline=False, showline=True, mirror=False,
                 linecolor=AXIS_COLOR, linewidth=1.2, ticks="outside", ticklen=12,
                 tickcolor=AXIS_COLOR, tickwidth=1.2, tickangle=-90, ticklabelstandoff=8,
                 tickfont=dict(family=FONT, size=19, color="#111"))

fig.write_html("out.html")
